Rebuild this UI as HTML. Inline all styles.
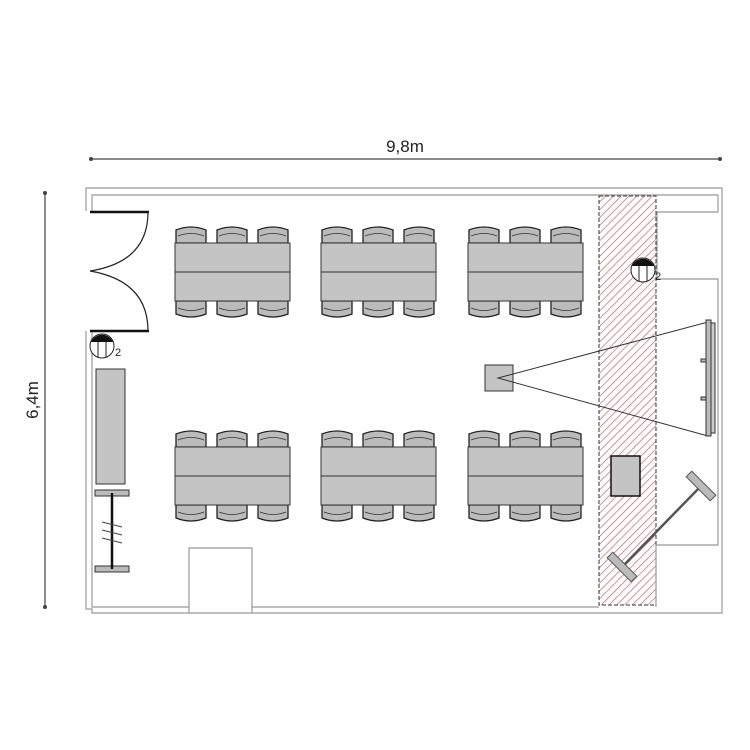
<!DOCTYPE html>
<html><head><meta charset="utf-8"><style>
html,body{margin:0;padding:0;background:#fff;width:750px;height:750px;overflow:hidden}
svg{display:block}
text{font-family:"Liberation Sans",sans-serif;fill:#222}
</style></head><body>
<svg width="750" height="750" viewBox="0 0 750 750" xmlns="http://www.w3.org/2000/svg">
<defs>
<pattern id="h" width="5.5" height="5.5" patternUnits="userSpaceOnUse" patternTransform="rotate(45)">
<rect width="5.5" height="5.5" fill="#fff"/><line x1="0" y1="0" x2="0" y2="5.5" stroke="#c05a5a" stroke-width="1.3"/>
</pattern>
<g id="chairT"><path d="M1,17 V4 Q16,-2 31,4 V17 Z" fill="#bbb" stroke="#222" stroke-width="1.3"/><path d="M3,10 Q16,5 29,10" fill="none" stroke="#333" stroke-width="0.8"/></g>
<g id="chairB"><path d="M1,0 V13 Q16,19 31,13 V0 Z" fill="#bbb" stroke="#222" stroke-width="1.3"/><path d="M3,7 Q16,12 29,7" fill="none" stroke="#333" stroke-width="0.8"/></g>
<g id="tbl">
<use href="#chairT" x="0" y="-17"/><use href="#chairT" x="41" y="-17"/><use href="#chairT" x="82" y="-17"/>
<use href="#chairB" x="0" y="58"/><use href="#chairB" x="41" y="58"/><use href="#chairB" x="82" y="58"/>
<rect x="0" y="0" width="115" height="58" fill="#c4c4c4" stroke="#333" stroke-width="1"/>
<line x1="0" y1="29" x2="115" y2="29" stroke="#333"/>
</g>
<g id="lamp"><circle r="12" fill="#fff" stroke="#222"/><path d="M-11,-4 A12,12 0 0 1 11,-4 Z" fill="#111"/><line x1="-4" y1="-4" x2="-4" y2="11" stroke="#222"/><line x1="4" y1="-4" x2="4" y2="11" stroke="#222"/></g>
</defs>
<line x1="91" y1="159" x2="720" y2="159" stroke="#444" stroke-width="1.2"/>
<circle cx="91" cy="159" r="2" fill="#444"/><circle cx="720" cy="159" r="2" fill="#444"/>
<text x="405" y="152" font-size="17" text-anchor="middle">9,8m</text>
<line x1="45" y1="193" x2="45" y2="607" stroke="#444" stroke-width="1.2"/>
<circle cx="45" cy="193" r="2" fill="#444"/><circle cx="45" cy="607" r="2" fill="#444"/>
<text transform="translate(38,400) rotate(-90)" font-size="17" text-anchor="middle">6,4m</text>
<rect x="599" y="196" width="57" height="409" fill="url(#h)" stroke="#333" stroke-dasharray="4,2"/>
<g fill="none" stroke="#999" stroke-width="1.2">
<polyline points="86,211 86,188 722,188 722,613 656,613"/>
<polyline points="92,211 92,195 718,195 718,212 657,212 657,279 718,279 718,545 656,545 656,607"/>
<polyline points="86,331 86,609 92,609 92,613 189,613"/>
<polyline points="92,331 92,607 189,607 189,548 252,548 252,607 599,607"/>
<polyline points="189,607 189,613 252,613 252,607"/>
<line x1="252" y1="613" x2="656" y2="613"/>
</g>
<line x1="90" y1="212" x2="149" y2="212" stroke="#111" stroke-width="2.5"/>
<line x1="90" y1="331" x2="149" y2="331" stroke="#111" stroke-width="2.5"/>
<path d="M148,212 Q148,262 90,271 Q148,281 148,331" fill="none" stroke="#222" stroke-width="1.2"/>
<use href="#tbl" x="175" y="243"/><use href="#tbl" x="321" y="243"/><use href="#tbl" x="468" y="243"/>
<use href="#tbl" x="175" y="447"/><use href="#tbl" x="321" y="447"/><use href="#tbl" x="468" y="447"/>
<use href="#lamp" x="102" y="346"/><text x="115" y="356" font-size="11">2</text>
<use href="#lamp" x="643" y="270"/><text x="655" y="280" font-size="11">2</text>
<rect x="96" y="369" width="29" height="115" fill="#c4c4c4" stroke="#333"/>
<rect x="95" y="490" width="34" height="6" fill="#bbb" stroke="#333"/>
<rect x="95" y="566" width="34" height="6" fill="#bbb" stroke="#333"/>
<line x1="112" y1="493" x2="112" y2="569" stroke="#111" stroke-width="2.5"/>
<g stroke="#444" stroke-width="1"><line x1="102" y1="522" x2="122" y2="527"/><line x1="102" y1="530" x2="122" y2="535"/><line x1="102" y1="538" x2="122" y2="543"/></g>
<rect x="485" y="365" width="28" height="26" fill="#c4c4c4" stroke="#333"/>
<polyline points="708,322 498,378 708,436" fill="none" stroke="#333" stroke-width="1"/>
<rect x="706" y="320" width="5" height="116" fill="#bbb" stroke="#333"/>
<rect x="711" y="323" width="4" height="110" fill="#ccc" stroke="#333"/>
<rect x="701" y="359" width="5" height="3" fill="#bbb" stroke="#333"/><rect x="701" y="397" width="5" height="3" fill="#bbb" stroke="#333"/>
<rect x="611" y="456" width="29" height="40" fill="#c4c4c4" stroke="#111" stroke-width="1.5"/>
<line x1="623" y1="566" x2="702" y2="485" stroke="#555" stroke-width="2.5"/>
<rect x="684" y="482" width="34" height="8" fill="#bbb" stroke="#555" transform="rotate(45 701 486)"/>
<rect x="605" y="563" width="34" height="8" fill="#bbb" stroke="#555" transform="rotate(45 622 567)"/>
</svg>
</body></html>
